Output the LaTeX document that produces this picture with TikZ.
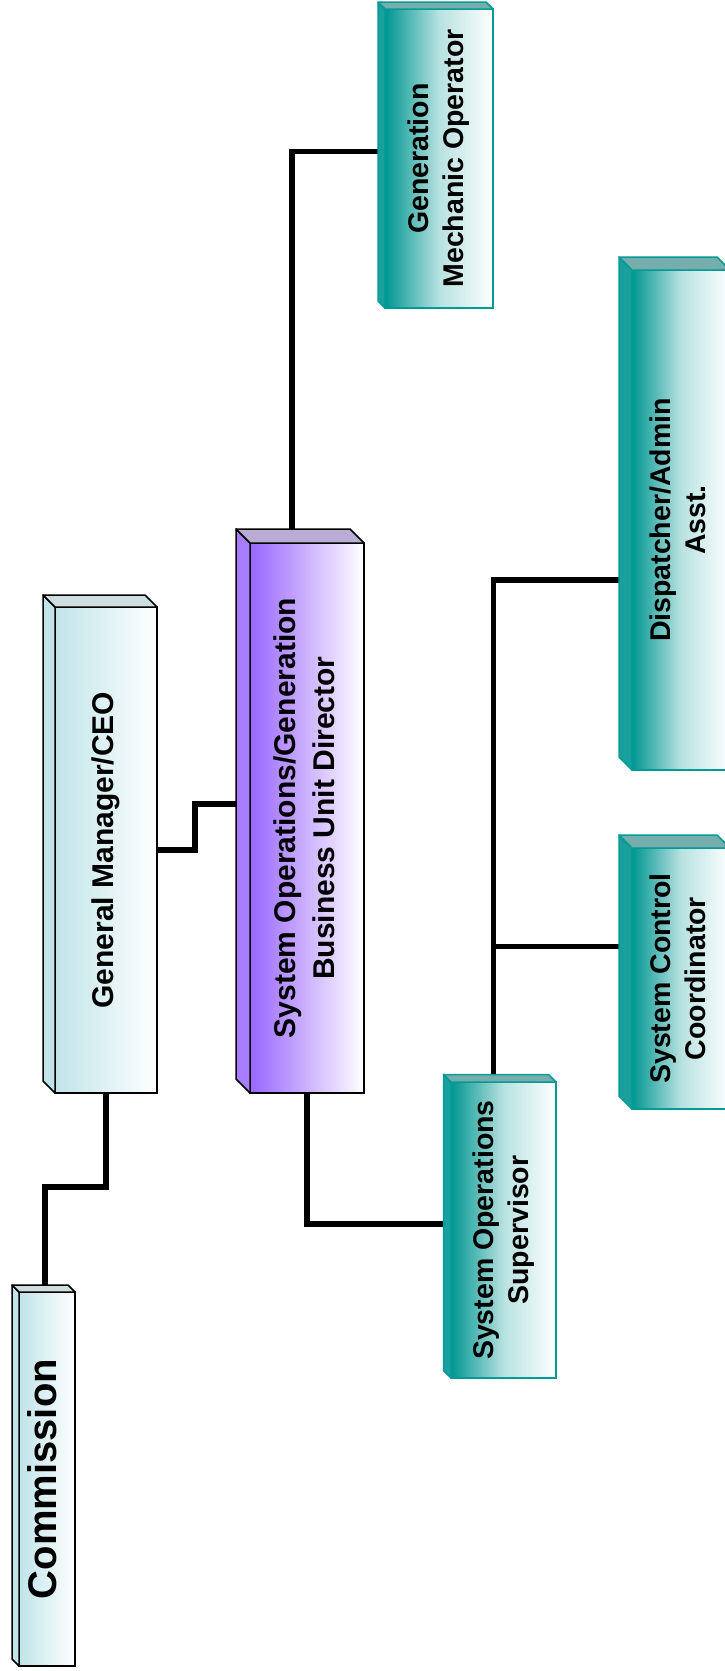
\documentclass[tikz,border=0pt]{standalone}
\usepackage{fontspec}
\setmainfont{Liberation Sans}[BoldFont={Liberation Sans Bold}]
\usepackage{graphicx}
\usetikzlibrary{backgrounds}
\definecolor{tealdark}{RGB}{0,150,145}
\definecolor{tealline}{RGB}{0,155,150}
\definecolor{paleblue}{RGB}{192,228,232}
\definecolor{violet1}{RGB}{153,102,255}
\tikzset{%
    link/.style={line width=5.5pt},
    orgbox/.style={draw=black, line width=1.5pt, inner sep=0pt, outer sep=0pt},
    palebox/.style={orgbox, left color=paleblue, right color=white},
    violetbox/.style={orgbox, left color=violet1, right color=white},
    tealbox/.style={orgbox, draw=tealline, left color=tealdark, right color=white, middle color=tealdark!28},
    bigfont/.style={font=\fontsize{40}{48}\selectfont},
    midfont/.style={font=\fontsize{30}{39}\selectfont},
    smallfont/.style={font=\fontsize{28.5}{35}\selectfont}
}
% text turned to read upwards
\newcommand{\vtext}[1]{\rotatebox{90}{\bfseries\begin{tabular}{@{}c@{}}#1\end{tabular}}}
% left and top faces: node, depth, side fill, top fill, line colour
\newcommand{\boxsides}[5]{%
    \filldraw[fill=#3, draw=#5, line width=1.5pt, line join=round]
        (#1.north west) -- ++(-#2,-#2) -- ([shift={(-#2,-#2)}]#1.south west) -- (#1.south west) -- cycle;
    \filldraw[fill=#4, draw=#5, line width=1.5pt, line join=round]
        (#1.north west) -- ++(-#2,-#2) -- ([shift={(-#2,-#2)}]#1.north east) -- (#1.north east) -- cycle;
}

\begin{document}
\begin{tikzpicture}[x=1pt,y=-1pt]
\useasboundingbox (0,0) rectangle (725,1671);

\node[palebox, bigfont, minimum width=56pt, minimum height=374pt] (comm) at (47,1479) {\vtext{Commission}};
\node[palebox, midfont, minimum width=102pt, minimum height=486pt] (gm) at (106,850) {\vtext{General Manager/CEO}};
\node[violetbox, midfont, minimum width=114pt, minimum height=550pt] (dir) at (307,818) {\vtext{System Operations/Generation\\Business Unit Director}};
\node[tealbox, smallfont, minimum width=108pt, minimum height=299pt] (genmech) at (439,158.5) {\vtext{Generation\\Mechanic Operator}};
\node[tealbox, smallfont, minimum width=105pt, minimum height=296pt] (sup) at (503.5,1230) {\vtext{System Operations\\Supervisor}};
\node[tealbox, smallfont, minimum width=98pt, minimum height=261pt] (ctrl) at (681,978.5) {\vtext{System Control\\Coordinator}};
\node[tealbox, smallfont, minimum width=98pt, minimum height=500pt] (disp) at (681,520) {\vtext{Dispatcher/Admin\\Asst.}};

\boxsides{comm}{7}{paleblue}{paleblue!70!gray!60}{black}
\boxsides{gm}{12}{paleblue}{paleblue!70!gray!60}{black}
\boxsides{dir}{14}{violet1!85}{violet1!45!gray!60}{black}
\boxsides{genmech}{7}{tealdark!90}{tealdark!55!gray!70}{tealline}
\boxsides{sup}{7.5}{tealdark!90}{tealdark!55!gray!70}{tealline}
\boxsides{ctrl}{13}{tealdark!90}{tealdark!55!gray!70}{tealline}
\boxsides{disp}{13}{tealdark!90}{tealdark!55!gray!70}{tealline}

\coordinate (bus) at ([xshift=-10pt]sup.north);

\begin{scope}[on background layer]
\fill[white] (0,0) rectangle (725,1671);
\draw[link] ([xshift=-2pt]comm.north) |- (106,1187) -- (gm.south);
\draw[link] (gm.east) -- ++(38,0) |- ([yshift=14pt]dir.west);
\draw[link] ([xshift=-15pt]dir.north) |- ([yshift=7pt]genmech.west);
\draw[link] (dir.south) |- ([yshift=6pt]sup.west);
\draw[link] (bus) |- ([yshift=-60pt]disp.west);
\draw[link] ([yshift=32pt]ctrl.west) -- ([yshift=32pt]ctrl.west -| bus);
\end{scope}
\end{tikzpicture}
\end{document}
